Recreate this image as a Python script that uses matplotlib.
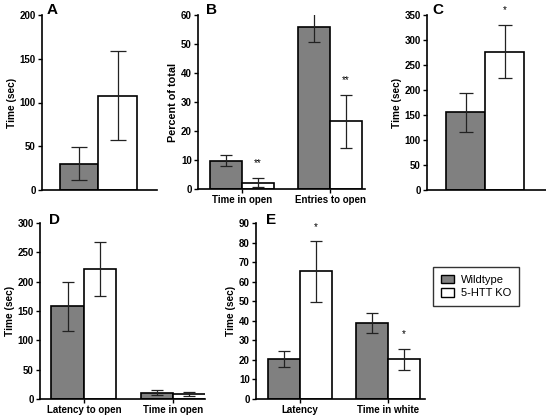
import numpy as np
import matplotlib.pyplot as plt
from matplotlib.patches import Patch

plt.rcParams["font.family"] = ["Liberation Sans", "DejaVu Sans"]
plt.rcParams["font.weight"] = "bold"

GROUP_NAMES = ["Wildtype", "5-HTT KO"]

# panel A: single measure
a_wt, a_ko = [30], [108]
a_wt_err, a_ko_err = [19], [51]

# panel B
b_labels = ["Time in open", "Entries to open"]
b_wt = [9.8, 55.7]
b_ko = [2.2, 23.3]
b_wt_err = [1.8, 4.9]
b_ko_err = [1.6, 9.0]
b_marks = ["**", "**"]
b_mark_y = [9.0, 37.5]

# panel C
c_wt, c_ko = [156], [277]
c_wt_err, c_ko_err = [39], [53]

# panel D
d_labels = ["Latency to open", "Time in open"]
d_wt = [158, 11]
d_ko = [221, 9]
d_wt_err = [42, 4]
d_ko_err = [46, 3.5]

# panel E
e_labels = ["Latency", "Time in white"]
e_wt = [20.3, 39]
e_ko = [65.2, 20.3]
e_wt_err = [4.0, 5.0]
e_ko_err = [15.5, 5.3]
e_marks = ["*", "*"]
e_mark_y = [88, 33]

WT_COLOR = "#808080"
KO_COLOR = "white"
GAP = 2.75
W = 546
H = 417


def make_ax(fig, x0, x1, y0, y1):
    # pixel box -> figure fraction
    return fig.add_axes([x0 / W, 1 - y1 / H, (x1 - x0) / W, (y1 - y0) / H])


def draw_bars(ax, wt, ko, wt_err, ko_err, capsize=4.5):
    n = len(wt)
    pos = np.arange(n) * GAP
    ax.bar(pos, wt, width=1.0, color=WT_COLOR, edgecolor="black",
           linewidth=1.2, zorder=2)
    ax.bar(pos + 1, ko, width=1.0, color=KO_COLOR, edgecolor="black",
           linewidth=1.2, zorder=2)
    ax.errorbar(pos, wt, yerr=wt_err, fmt="none", ecolor="#222222",
                elinewidth=0.9, capsize=capsize, capthick=0.9, zorder=3)
    ax.errorbar(pos + 1, ko, yerr=ko_err, fmt="none", ecolor="#222222",
                elinewidth=0.9, capsize=capsize, capthick=0.9, zorder=3)
    return pos


def style(ax, ylim, step, ylabel, labels=None, pos=None, ysize=7.3):
    ax.set_ylim(*ylim)
    ax.set_yticks(np.arange(ylim[0], ylim[1] + step / 2, step))
    for s in ("top", "right"):
        ax.spines[s].set_visible(False)
    for s in ("left", "bottom"):
        ax.spines[s].set_linewidth(1.2)
    ax.tick_params(axis="y", labelsize=7, length=3, width=1.0, pad=1.5)
    if labels is None:
        ax.set_xticks([])
    else:
        ax.set_xticks(pos + 0.5)
        ax.set_xticklabels(labels, fontsize=7, fontweight="bold")
        ax.tick_params(axis="x", length=3, width=1.0, pad=1)
    ax.set_ylabel(ylabel, fontsize=ysize, fontweight="bold", labelpad=2)


def letter(fig, x, y, s):
    fig.text(x / W, 1 - y / H, s, fontsize=11, fontweight="bold",
             ha="left", va="center")


fig = plt.figure(figsize=(W / 100, H / 100), dpi=100)

# A
ax = make_ax(fig, 42, 157, 15, 190)
draw_bars(ax, a_wt, a_ko, a_wt_err, a_ko_err, capsize=5.5)
ax.set_xlim(-0.968, 2.02)
style(ax, (0, 200), 50, "Time (sec)")
letter(fig, 47, 10, "A")

# B
ax = make_ax(fig, 198, 365, 15, 189)
pos = draw_bars(ax, b_wt, b_ko, b_wt_err, b_ko_err, capsize=4)
ax.set_xlim(-0.875, 4.34)
style(ax, (0, 60), 10, "Percent of total", b_labels, pos, ysize=7.8)
for p, m, y in zip(pos, b_marks, b_mark_y):
    ax.text(p + 1, y, m, ha="center", va="center", fontsize=7,
            fontweight="normal")
letter(fig, 206, 10, "B")

# C
ax = make_ax(fig, 427, 546, 15, 190)
draw_bars(ax, c_wt, c_ko, c_wt_err, c_ko_err, capsize=4.8)
ax.set_xlim(-0.987, 2.06)
style(ax, (0, 350), 50, "Time (sec)")
ax.text(1, 360, "*", ha="center", va="center", fontsize=7,
        fontweight="normal", clip_on=False)
letter(fig, 432, 10, "C")

# D
ax = make_ax(fig, 40, 205, 223, 399)
pos = draw_bars(ax, d_wt, d_ko, d_wt_err, d_ko_err, capsize=4.5)
ax.set_xlim(-0.85, 4.23)
style(ax, (0, 300), 50, "Time (sec)", d_labels, pos)
letter(fig, 49, 220, "D")

# E
ax = make_ax(fig, 256, 425, 223, 399)
pos = draw_bars(ax, e_wt, e_ko, e_wt_err, e_ko_err, capsize=4.5)
ax.set_xlim(-0.875, 4.4)
style(ax, (0, 90), 10, "Time (sec)", e_labels, pos)
for p, m, y in zip(pos, e_marks, e_mark_y):
    ax.text(p + 1, y, m, ha="center", va="center", fontsize=7,
            fontweight="normal", clip_on=False)
letter(fig, 266, 220, "E")

handles = [Patch(facecolor=WT_COLOR, edgecolor="black", linewidth=1.0),
           Patch(facecolor=KO_COLOR, edgecolor="black", linewidth=1.0)]
leg = fig.legend(handles, GROUP_NAMES, loc="upper left",
                 bbox_to_anchor=(433 / W, 1 - 267 / H),
                 prop={"size": 8, "weight": "normal"}, frameon=True,
                 fancybox=False, edgecolor="black", handlelength=1.2,
                 handleheight=0.8, handletextpad=0.6, borderpad=0.7,
                 labelspacing=0.3, borderaxespad=0)
leg.get_frame().set_linewidth(1.0)

fig.savefig("out.png", dpi=100)
